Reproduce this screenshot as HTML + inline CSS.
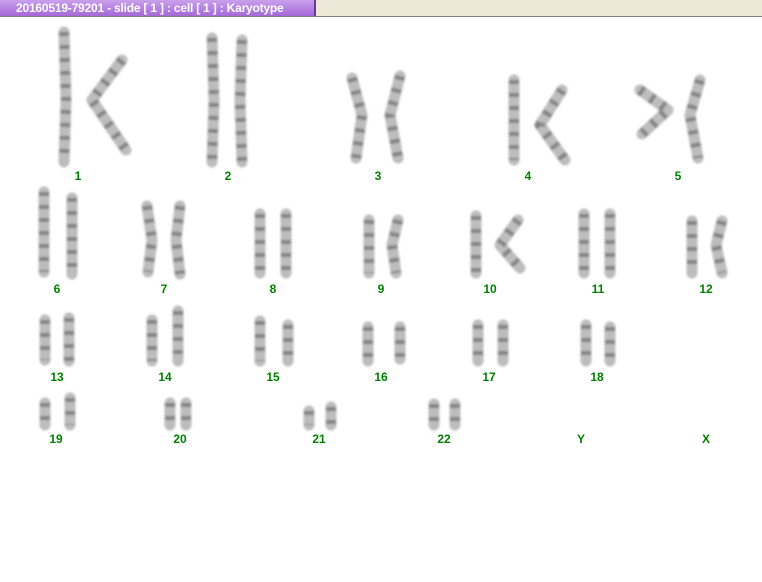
<!DOCTYPE html>
<html><head><style>
html,body{margin:0;padding:0;width:762px;height:582px;background:#fff;overflow:hidden;font-family:"Liberation Sans",sans-serif}
.bar{position:absolute;left:0;top:0;width:762px;height:16px;background:#ece9d8;border-bottom:1px solid #808080}
.tab{position:absolute;left:0;top:0;width:316px;height:16px;background:linear-gradient(#c9a0ec,#a468d8);border-right:2px solid #6a3a90;color:#fff;font-size:12px;font-weight:bold;line-height:16px;padding-left:16px;box-sizing:border-box;letter-spacing:-0.2px}
svg{position:absolute;left:0;top:0}
path{fill:none}
.c{fill:none;stroke:#bdbdbd;stroke-width:11;stroke-linecap:round;stroke-linejoin:round}
.b{fill:none;stroke:#404040;stroke-width:10;stroke-dasharray:4 9;opacity:.45}
text{fill:#008000;font-size:12px;font-weight:bold;font-family:"Liberation Sans",sans-serif;text-anchor:middle}
</style></head><body>
<div class="bar"><div class="tab">20160519-79201 - slide [ 1 ] : cell [ 1 ] : Karyotype</div></div>
<svg width="762" height="582">
<defs><filter id="bl"><feGaussianBlur stdDeviation="1"/></filter></defs>
<g id="ch">
<path d="M64 32 L66 100 L64 162"/>
<path d="M122 60 L92 100 L126 150"/>
<path d="M212 38 L214 100 L212 162"/>
<path d="M242 40 L240 100 L242 162"/>
<path d="M352 78 L362 115 L356 158"/>
<path d="M400 76 L390 115 L398 158"/>
<path d="M514 80 L514 160"/>
<path d="M562 90 L540 125 L565 160"/>
<path d="M640 90 L668 110 L642 134"/>
<path d="M700 80 L690 115 L698 158"/>
<path d="M44 192 L44 272"/>
<path d="M72 198 L72 274"/>
<path d="M147 206 L152 240 L148 272"/>
<path d="M180 206 L176 240 L180 274"/>
<path d="M260 214 L260 273"/>
<path d="M286 214 L286 273"/>
<path d="M369 220 L369 273"/>
<path d="M398 220 L392 245 L396 273"/>
<path d="M476 216 L476 273"/>
<path d="M518 220 L500 245 L520 268"/>
<path d="M584 214 L584 273"/>
<path d="M610 214 L610 273"/>
<path d="M692 221 L692 273"/>
<path d="M722 221 L716 245 L722 273"/>
<path d="M45 320 L45 360"/>
<path d="M69 318 L69 361"/>
<path d="M152 320 L152 361"/>
<path d="M178 311 L178 361"/>
<path d="M260 321 L260 361"/>
<path d="M288 325 L288 361"/>
<path d="M368 327 L368 361"/>
<path d="M400 327 L400 359"/>
<path d="M478 325 L478 361"/>
<path d="M503 325 L503 361"/>
<path d="M586 325 L586 361"/>
<path d="M610 327 L610 361"/>
<path d="M45 403 L45 425"/>
<path d="M70 398 L70 425"/>
<path d="M170 403 L170 425"/>
<path d="M186 403 L186 425"/>
<path d="M309 411 L309 425"/>
<path d="M331 407 L331 425"/>
<path d="M434 404 L434 425"/>
<path d="M455 404 L455 425"/>
</g>
<g filter="url(#bl)">
<use href="#ch" class="c"/>
<use href="#ch" class="b"/>
</g>
<text x="78" y="180">1</text><text x="228" y="180">2</text><text x="378" y="180">3</text><text x="528" y="180">4</text><text x="678" y="180">5</text>
<text x="57" y="293">6</text><text x="164" y="293">7</text><text x="273" y="293">8</text><text x="381" y="293">9</text><text x="490" y="293">10</text><text x="598" y="293">11</text><text x="706" y="293">12</text>
<text x="57" y="381">13</text><text x="165" y="381">14</text><text x="273" y="381">15</text><text x="381" y="381">16</text><text x="489" y="381">17</text><text x="597" y="381">18</text>
<text x="56" y="443">19</text><text x="180" y="443">20</text><text x="319" y="443">21</text><text x="444" y="443">22</text><text x="581" y="443">Y</text><text x="706" y="443">X</text>
</svg>
</body></html>
